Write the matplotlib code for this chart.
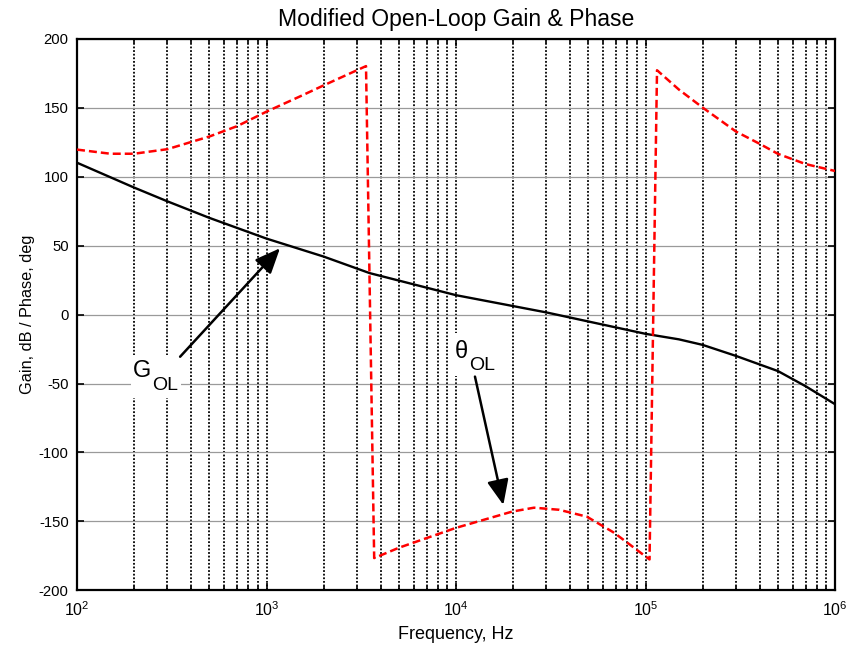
import numpy as np
import matplotlib
matplotlib.use("Agg")
import matplotlib.pyplot as plt
from matplotlib.patches import Rectangle
from matplotlib.ticker import LogLocator, MultipleLocator

plt.rcParams['font.family'] = ['Liberation Sans', 'DejaVu Sans']
plt.rcParams['mathtext.fontset'] = 'custom'
plt.rcParams['mathtext.rm'] = 'Liberation Sans'
plt.rcParams['mathtext.it'] = 'Liberation Sans:italic'
plt.rcParams['axes.unicode_minus'] = False

# open-loop gain, dB
gain_freq = [100, 200, 300, 500, 1000, 2000, 3500, 10000, 30000, 100000,
             150000, 200000, 300000, 500000, 700000, 1000000]
gain_db = [110, 92, 82, 70, 55, 42, 30, 14, 1.5, -14,
           -18, -22, -30, -41, -52, -65]

# open-loop phase, deg (wrapped to +-180)
phase_freq = [100, 150, 200, 300, 400, 500, 700, 1000, 1500, 2000, 3350,
              3700, 5000, 7000, 10000, 19800, 25800, 35000, 49000, 68000, 85000, 105000,
              115000, 150000, 200000, 300000, 400000, 500000, 700000, 1000000]
phase_deg = [119.5, 116.5, 116.5, 119.8, 125, 129, 136.5, 147, 158, 166, 180,
             -176.5, -169, -162, -154.6, -142.8, -140, -141.5, -146.5, -158, -168, -177.5,
             177, 163, 150, 132.6, 123.7, 116.4, 109, 104]

fig = plt.figure(figsize=(8.48, 6.45), dpi=100)
ax = fig.add_axes([0.0908, 0.0845, 0.8939, 0.8558])

ax.semilogx(gain_freq, gain_db, color='k', lw=1.7, zorder=3)
ax.semilogx(phase_freq, phase_deg, color='red', lw=1.8, ls=(0, (3.2, 1.6)), zorder=3)

ax.set_xlim(1e2, 1e6)
ax.set_ylim(-200, 200)
ax.yaxis.set_major_locator(MultipleLocator(50))
ax.xaxis.set_major_locator(LogLocator(base=10))
ax.xaxis.set_minor_locator(LogLocator(base=10, subs=np.arange(2, 10)))

# matlab style grid: dotted verticals, grey horizontals
ax.grid(True, which='both', axis='x', color='k', ls=(0, (1, 1)), lw=1.3)
ax.grid(True, which='major', axis='y', color='#9a9a9a', ls='-', lw=0.9)
ax.set_axisbelow(True)

for s in ax.spines.values():
    s.set_linewidth(1.6)
ax.tick_params(which='both', direction='in', top=True, right=True, width=1.2)
ax.tick_params(which='major', length=5, pad=6)
ax.tick_params(which='minor', length=3)
ax.tick_params(axis='y', labelsize=10.7)
ax.tick_params(axis='x', labelsize=11.5, pad=7)

ax.set_title('Modified Open-Loop Gain & Phase', fontsize=16.6, pad=9)
ax.set_xlabel('Frequency, Hz', fontsize=13, labelpad=5)
ax.set_ylabel('Gain, dB / Phase, deg', fontsize=11.7, labelpad=3)

# curve labels: white backing box, main letter plus a lowered subscript
arrow = dict(arrowstyle='-|>,head_length=0.7,head_width=0.3', color='k', lw=1.8,
             mutation_scale=22, shrinkA=0, shrinkB=0)

ax.add_patch(Rectangle((192, -60.5), 352 - 192, 31.2, fc='white', ec='none', zorder=4))
ax.text(198, -45.5, 'G', fontsize=17, ha='left', va='baseline', zorder=5)
ax.text(250, -54.7, 'OL', fontsize=14, ha='left', va='baseline', zorder=5)
ax.annotate('', xy=(1178, 48), xytext=(350, -30.6), arrowprops=arrow, zorder=5)

ax.add_patch(Rectangle((9290, -44.6), 16600 - 9290, 31.2, fc='white', ec='none', zorder=4))
ax.text(9900, -31.4, '\u03b8', fontsize=17, ha='left', va='baseline', zorder=5)
ax.text(11700, -40.2, 'OL', fontsize=14, ha='left', va='baseline', zorder=5)
ax.annotate('', xy=(17770, -138), xytext=(12590, -45), arrowprops=arrow, zorder=5)

fig.savefig('out.png', dpi=100)
